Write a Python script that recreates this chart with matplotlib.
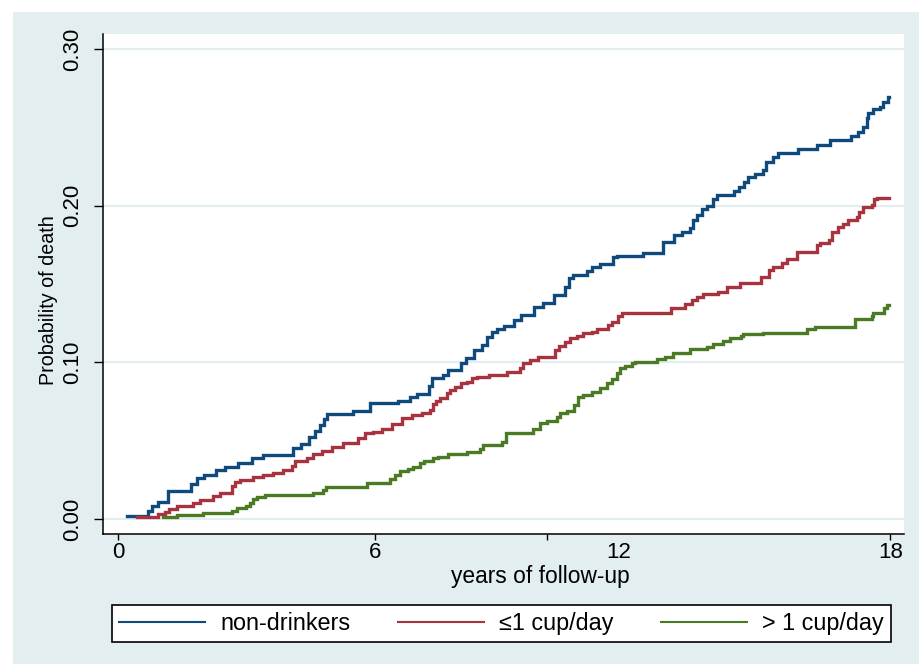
import matplotlib
matplotlib.use('Agg')
import matplotlib.pyplot as plt
from matplotlib.lines import Line2D
from matplotlib.patches import Rectangle

plt.rcParams['font.family'] = ['Liberation Sans', 'DejaVu Sans']

# step points (years, cumulative probability of death)
non_t = [0.21, 0.70, 0.80, 0.93, 1.17, 1.70, 1.85, 2.00, 2.29, 2.50, 2.80, 3.12, 3.38,
         4.08, 4.27, 4.45, 4.59, 4.71, 4.80, 4.87, 5.48, 5.87, 6.53, 6.81, 6.97, 7.25,
         7.32, 7.58, 7.69, 8.00, 8.11, 8.30, 8.49, 8.60, 8.72, 8.83, 9.00, 9.23, 9.40,
         9.70, 9.91, 10.17, 10.41, 10.51, 10.61, 10.93, 11.05, 11.24, 11.54, 11.63,
         12.23, 12.70, 12.96, 13.15, 13.33, 13.40, 13.50, 13.61, 13.73, 13.87, 13.96,
         14.36, 14.48, 14.59, 14.69, 14.85, 15.03, 15.10, 15.27, 15.38, 15.85, 16.29,
         16.60, 17.09, 17.25, 17.37, 17.46, 17.48, 17.60, 17.76, 17.83, 17.95]
non_p = [0.002, 0.005, 0.008, 0.011, 0.018, 0.022, 0.026, 0.028, 0.031, 0.033, 0.036,
         0.039, 0.041, 0.045, 0.048, 0.052, 0.056, 0.060, 0.064, 0.067, 0.069, 0.074,
         0.075, 0.078, 0.080, 0.085, 0.090, 0.092, 0.095, 0.0995, 0.103, 0.108, 0.111,
         0.116, 0.119, 0.121, 0.123, 0.127, 0.130, 0.135, 0.138, 0.143, 0.148, 0.154,
         0.156, 0.158, 0.161, 0.163, 0.167, 0.168, 0.170, 0.177, 0.181, 0.183, 0.186,
         0.191, 0.194, 0.198, 0.200, 0.204, 0.207, 0.209, 0.212, 0.215, 0.218, 0.220,
         0.223, 0.228, 0.231, 0.2335, 0.236, 0.2387, 0.242, 0.2444, 0.247, 0.250, 0.256,
         0.259, 0.2616, 0.263, 0.266, 0.269]

low_t = [0.44, 0.93, 1.10, 1.19, 1.38, 1.75, 1.91, 2.21, 2.38, 2.66, 2.73, 2.84, 3.15,
         3.38, 3.61, 3.85, 4.05, 4.12, 4.41, 4.55, 4.76, 4.99, 5.24, 5.59, 5.75, 5.94,
         6.15, 6.39, 6.62, 6.85, 7.09, 7.27, 7.34, 7.41, 7.51, 7.67, 7.74, 7.86, 8.00,
         8.14, 8.25, 8.37, 8.65, 9.07, 9.37, 9.44, 9.60, 9.79, 10.19, 10.28, 10.42,
         10.54, 10.70, 10.84, 11.05, 11.17, 11.42, 11.52, 11.66, 11.75, 12.89, 13.21,
         13.38, 13.50, 13.64, 13.99, 14.20, 14.50, 14.99, 15.17, 15.27, 15.48, 15.59,
         15.83, 16.29, 16.36, 16.57, 16.64, 16.78, 16.90, 17.01, 17.22, 17.27, 17.37,
         17.58, 17.62, 17.69]
low_p = [0.0013, 0.003, 0.0045, 0.0064, 0.008, 0.010, 0.012, 0.0147, 0.0166, 0.021,
         0.0236, 0.025, 0.027, 0.0278, 0.0294, 0.031, 0.034, 0.037, 0.039, 0.0415,
         0.0434, 0.046, 0.0485, 0.0517, 0.055, 0.0555, 0.0574, 0.0606, 0.0644, 0.0664,
         0.0676, 0.0696, 0.0734, 0.0753, 0.0772, 0.0804, 0.0823, 0.0842, 0.0868, 0.0874,
         0.090, 0.0906, 0.0919, 0.0938, 0.0964, 0.0996, 0.1015, 0.1034, 0.108, 0.1105,
         0.113, 0.1155, 0.117, 0.1187, 0.1193, 0.121, 0.124, 0.1257, 0.1295, 0.1315,
         0.1347, 0.1372, 0.1398, 0.1417, 0.1436, 0.145, 0.148, 0.1506, 0.1544, 0.159,
         0.161, 0.1634, 0.166, 0.1704, 0.175, 0.176, 0.178, 0.183, 0.1863, 0.188, 0.191,
         0.1927, 0.196, 0.199, 0.2004, 0.204, 0.2048]

high_t = [1.05, 1.38, 1.98, 2.66, 2.77, 2.98, 3.08, 3.15, 3.24, 3.43, 4.55, 4.78, 4.85,
          5.80, 6.34, 6.46, 6.57, 6.76, 6.88, 7.03, 7.13, 7.34, 7.46, 7.69, 8.14, 8.44,
          8.51, 8.95, 9.05, 9.67, 9.84, 10.00, 10.23, 10.30, 10.47, 10.63, 10.72, 10.84,
          11.05, 11.24, 11.40, 11.52, 11.63, 11.70, 11.82, 11.98, 12.05, 12.56, 12.75,
          12.94, 13.33, 13.73, 13.87, 14.11, 14.27, 14.52, 14.57, 15.03, 16.06, 16.25,
          17.18, 17.58, 17.60, 17.85, 17.92]
high_p = [0.0013, 0.0026, 0.004, 0.005, 0.007, 0.0083, 0.0102, 0.0128, 0.014, 0.0153,
          0.0166, 0.0185, 0.0204, 0.023, 0.0255, 0.028, 0.0306, 0.032, 0.033, 0.0357,
          0.037, 0.039, 0.0396, 0.0415, 0.0428, 0.0447, 0.0472, 0.049, 0.055, 0.0574,
          0.061, 0.0625, 0.065, 0.0676, 0.069, 0.0727, 0.0778, 0.079, 0.081, 0.0834,
          0.0866, 0.0891, 0.093, 0.0962, 0.0975, 0.0996, 0.1002, 0.102, 0.1034, 0.106,
          0.1085, 0.1098, 0.1117, 0.1136, 0.1155, 0.1168, 0.118, 0.1187, 0.121, 0.1225,
          0.1276, 0.1295, 0.1315, 0.1347, 0.1366]

t_end = 17.97
labels = ['non-drinkers', '\u22641 cup/day', '> 1 cup/day']
colors = ['#104A7C', '#A7333F', '#4A7A23']

fig = plt.figure(figsize=(9.2, 6.64), dpi=100)
# light bluish graph region
fig.patches.append(Rectangle((13/920, 0), 1, 1 - 12/664, transform=fig.transFigure,
                             facecolor='#E2EEF0', edgecolor='none', zorder=-10))
ax = fig.add_axes([103/920, 1 - 534/664, 801/920, 500/664])
ax.set_facecolor('white')

for t, p, c in zip([non_t, low_t, high_t], [non_p, low_p, high_p], colors):
    ax.step(t + [t_end], p + [p[-1]], where='post', color=c, lw=2.4, solid_joinstyle='miter')

ax.set_xlim(-0.35, 18.32)
ax.set_ylim(-0.0096, 0.3095)

ax.set_yticks([0, 0.1, 0.2, 0.3])
ax.set_yticklabels(['0.00', '0.10', '0.20', '0.30'], rotation=90, va='center', fontsize=16)
ax.tick_params(axis='y', length=6.5, width=1, pad=8)
ax.yaxis.grid(True, color='#E4EEF0', lw=1.6)
ax.set_axisbelow(True)

# the "12" label sits off its tick in the original, and a bare tick mark sits at 10
ax.set_xticks([0, 6, 10, 11.66, 18])
ax.set_xticklabels(['0', '6', '', '12', '18'], fontsize=16)
ax.tick_params(axis='x', length=4, width=1, pad=2)
ax.xaxis.get_major_ticks()[3].tick1line.set_visible(False)

for s in ['top', 'right']:
    ax.spines[s].set_visible(False)
for s in ['left', 'bottom']:
    ax.spines[s].set_linewidth(1.1)

fig.text(49/920, 1 - 300/664, 'Probability of death', rotation=90, fontsize=14.2,
         ha='center', va='center')
fig.text(540/920, 1 - 577/664, 'years of follow-up', fontsize=16.4, ha='center', va='center')

handles = [Line2D([], [], color=c, lw=1.5) for c in colors]
leg = fig.legend(handles, labels, ncol=3, mode='expand', loc='center',
                 bbox_to_anchor=(112/920, 1 - 644/664, 779/920, 41/664),
                 fontsize=16.8, handlelength=3.7, handletextpad=0.65, borderaxespad=0,
                 fancybox=False, edgecolor='black', framealpha=1, borderpad=0.3)
leg.get_frame().set_linewidth(1.2)

fig.savefig('out.png', dpi=100)
